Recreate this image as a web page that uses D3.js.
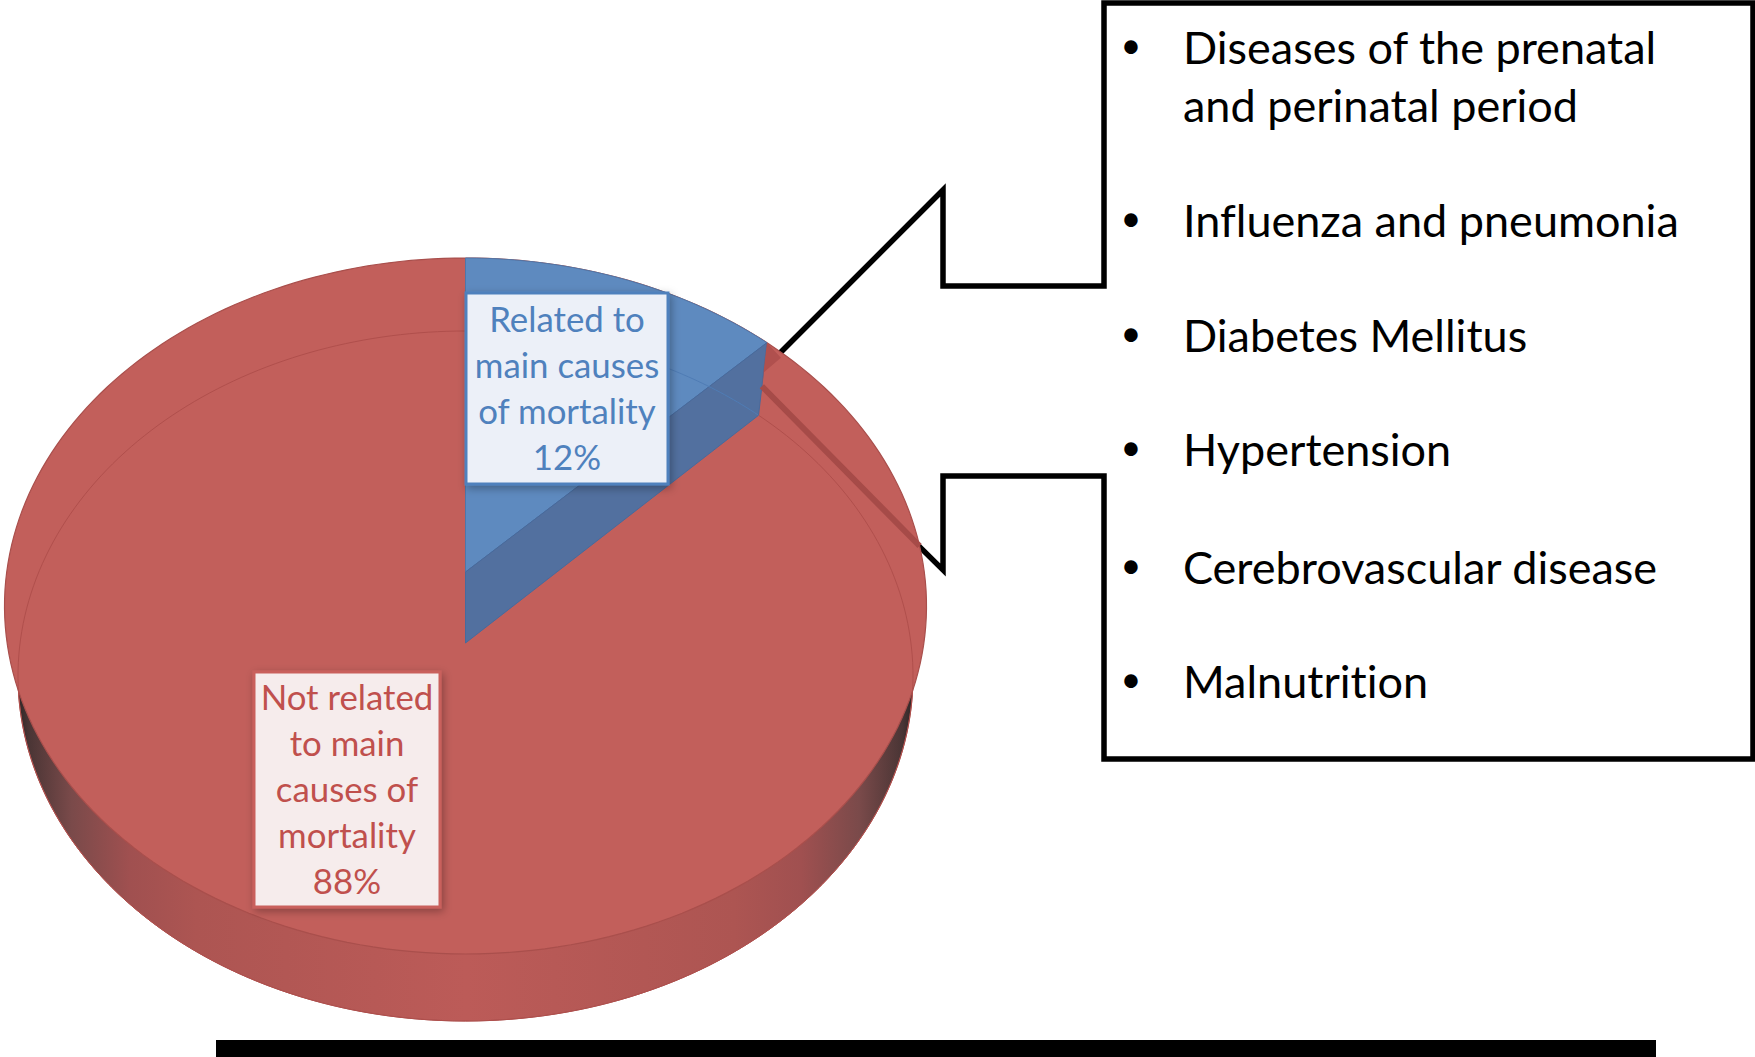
<!DOCTYPE html>
<html><head><meta charset="utf-8">
<script src="https://cdnjs.cloudflare.com/ajax/libs/d3/7.8.5/d3.min.js"></script>
<style>html,body{margin:0;background:#fff}svg{display:block}text{font-family:Lato,"Open Sans",sans-serif;font-variant-ligatures:none}</style>
</head><body><svg id="c" width="1755" height="1057"></svg>
<script>
const sliceNames=[["Related to","main causes","of mortality"],["Not related","to main","causes of","mortality"]];
const sliceValues=[12.4,87.6];
const sliceFill=["#5e8abf","#c25f5b"];
const sliceText=["#4f81bd","#c0504d"];
const causes=[["Diseases of the prenatal","and perinatal period"],["Influenza and pneumonia"],["Diabetes Mellitus"],["Hypertension"],["Cerebrovascular disease"],["Malnutrition"]];
const causeRows=[49,107,222,337,451,569,683];

const svg=d3.select("#c");
const defs=svg.append("defs");
const g=defs.append("linearGradient").attr("id","wall");
[[0,"#2e2626"],[.012,"#4a3535"],[.06,"#7a4a4a"],[.125,"#a05050"],[.2,"#ad5552"],[.5,"#bc5b58"],[.8,"#ad5552"],[.875,"#a05050"],[.94,"#7a4a4a"],[.988,"#4a3535"],[1,"#2e2626"]]
 .forEach(([o,c])=>g.append("stop").attr("offset",o).attr("stop-color",c));
const f=defs.append("filter").attr("id","sh").attr("x","-10%").attr("y","-10%").attr("width","125%").attr("height","125%");
f.append("feDropShadow").attr("dx",2).attr("dy",3).attr("stdDeviation",4).attr("flood-color","#000").attr("flood-opacity",.3);

// perspective-projected discs (unit-disc -> screen scales)
function disc(cx,apexY,topY,botY,halfW){
  const a=apexY-topY,b=botY-apexY,k=(b-a)/(a+b),B=a*(1+k),R=halfW*Math.sqrt(1-k*k);
  const sx=d3.scaleLinear().domain([0,1]).range([cx,cx+R]);
  const sy=d3.scaleLinear().domain([0,1]).range([apexY,apexY-B]);
  return t=>{const u=Math.sin(t),v=Math.cos(t),w=1+k*v;return [sx(u/w),sy(v/w)];};
}
const topDisc=disc(465.5,572,258,954,461), botDisc=disc(465.5,643,331,1021,447.5);
const line=d3.line().curve(d3.curveLinear);
const arcPts=(fn,a,b,n=240)=>d3.range(n+1).map(i=>fn(a+(b-a)*i/n));
const whole=fn=>line(arcPts(fn,0,2*Math.PI))+"Z";

// callout
const cb={l:1104,t:3,r:1753,b:759};
const calloutPts=[[cb.l,cb.t],[cb.r,cb.t],[cb.r,cb.b],[cb.l,cb.b],[cb.l,476],[943,476],[943,570],[752,381],[943,190],[943,286],[cb.l,286]];
svg.append("path").attr("d",line(calloutPts)+"Z").attr("fill","#fff").attr("stroke","#000").attr("stroke-width",5.5).attr("stroke-linejoin","miter");

// pie
const pie=d3.pie().sort(null).value(d=>d)(sliceValues);
const A=pie[0];
svg.append("path").attr("d",whole(botDisc)).attr("fill","url(#wall)").attr("stroke","#a8504e").attr("stroke-width",1);
svg.append("path").attr("d",whole(topDisc)).attr("fill",sliceFill[1]).attr("stroke","#a94f4c").attr("stroke-width",1.2);
const apT=[465.5,572],apB=[465.5,643];
svg.append("path").attr("d",line(arcPts(topDisc,A.startAngle,A.endAngle,60).concat([apT]))+"Z").attr("fill",sliceFill[0]).attr("stroke","#4f76a8").attr("stroke-width",1);
svg.append("path").attr("d",line([apT,topDisc(A.endAngle),botDisc(A.endAngle),apB])+"Z").attr("fill","#52709f").attr("stroke","#476a9c").attr("stroke-width",1);
// see-through floor rim
svg.append("path").attr("d",line(arcPts(botDisc,A.endAngle,2*Math.PI))).attr("fill","none").attr("stroke","#b04f4c").attr("stroke-width",1);
svg.append("path").attr("d",line(arcPts(botDisc,A.startAngle,A.endAngle,60))).attr("fill","none").attr("stroke","#4f7cb5").attr("stroke-width",1);
// dark strip seen through the surface
const e=topDisc(A.endAngle),eb=botDisc(A.endAngle);
const s0=[e[0]+(eb[0]-e[0])*.6,e[1]+(eb[1]-e[1])*.6], s1=topDisc(A.endAngle+41*Math.PI/180);
svg.append("path").attr("d",line([s0,s1])).attr("stroke","#a64b48").attr("stroke-width",6).attr("fill","none");
svg.append("path").attr("d",line([e,[e[0]+14,e[1]+15],[s0[0]+2,s0[1]-14],s0])+"Z").attr("fill","#b0504e");

// labels
const labels=[{i:0,x:466,y:293,w:202,h:191},{i:1,x:254,y:672,w:186,h:235}];
labels.forEach(L=>{
  const gL=svg.append("g");
  gL.append("rect").attr("x",L.x).attr("y",L.y).attr("width",L.w).attr("height",L.h)
    .attr("fill",L.i?"#f6ecec":"#ecf0f8").attr("stroke",L.i?"#c9605c":"#4f81bd").attr("stroke-width",3).attr("filter","url(#sh)");
  const rows=sliceNames[L.i].concat(Math.round(sliceValues[L.i])+"%");
  gL.selectAll("text").data(rows).join("text").attr("x",L.x+L.w/2).attr("y",(d,j)=>L.y+L.h/2+(j-(rows.length-1)/2)*46.1+12.5)
    .attr("text-anchor","middle").attr("font-size",34.8).attr("fill",sliceText[L.i]).text(d=>d);
});

// list
const rows=causes.flatMap(c=>c.map((t,j)=>({t,b:j==0})));
const list=svg.append("g");
list.selectAll("text.t").data(rows).join("text").attr("class","t").attr("x",1183).attr("y",(d,i)=>causeRows[i]+15).attr("font-size",45).attr("fill","#000").text(d=>d.t);
list.selectAll("text.b").data(rows.filter(d=>d.b)).join("text").attr("class","b").attr("x",1131).attr("text-anchor","middle")
  .attr("y",d=>causeRows[rows.indexOf(d)]+9).attr("font-size",36).text("•");

// bar
svg.append("rect").attr("x",216).attr("y",1040).attr("width",1440).attr("height",17).attr("fill","#000");
</script></body></html>
